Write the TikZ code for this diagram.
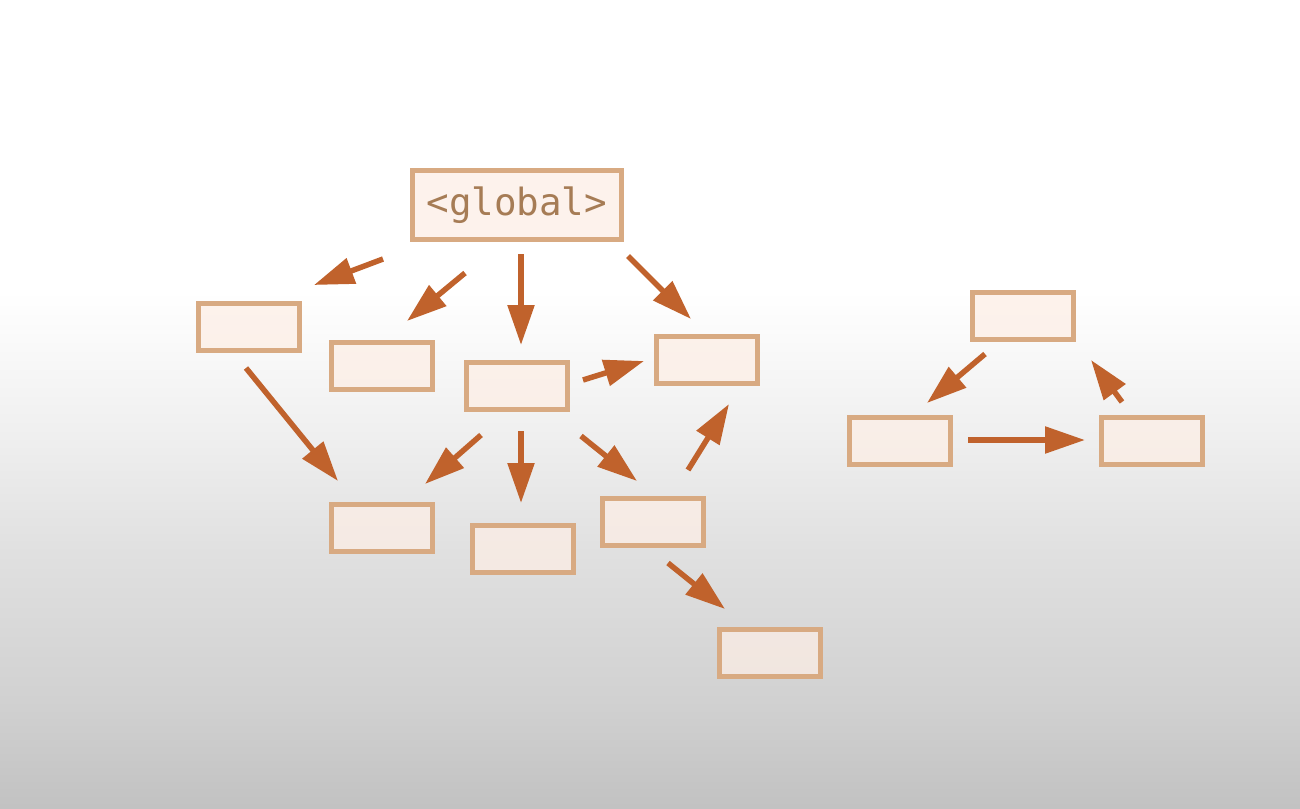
\documentclass[tikz,border=0pt]{standalone}
\usepackage{fontspec}
\setmonofont{DejaVu Sans Mono}
\usetikzlibrary{arrows.meta}
\definecolor{boxfill}{HTML}{FDEEE5}
\definecolor{boxline}{HTML}{D8AA82}
\definecolor{arr}{HTML}{C0622C}
\definecolor{txt}{HTML}{A67C55}
\pgfdeclareverticalshading{bgshade}{100bp}{
  color(0bp)=(white!76!black);
  color(25bp)=(white!76!black);
  color(31.7bp)=(white!82!black);
  color(41bp)=(white!88!black);
  color(48.4bp)=(white!94!black);
  color(54bp)=(white!98!black);
  color(57bp)=(white);
  color(75bp)=(white);
  color(100bp)=(white)}
\tikzset{
  box/.style={draw=boxline, line width=4.5pt, fill=boxfill, fill opacity=0.72, draw opacity=1, text opacity=1, minimum width=101pt, minimum height=47pt, inner sep=0pt, anchor=north west},
  arrow/.style={draw=arr, line width=5.5pt, -{Triangle[length=40pt,width=26pt]}}
}
\begin{document}
\begin{tikzpicture}[x=1pt,y=-1pt]
\useasboundingbox (0,0) rectangle (1300,808);
\shade[shading=bgshade] (0,0) rectangle (1300,808);
% nodes
\node[box, minimum width=209pt, minimum height=69pt, text=txt, font=\ttfamily\fontsize{37.5}{42}\selectfont] (g) at (410,168) {<global>};
\node[box] (a) at (196,301) {};
\node[box] (b) at (329,340) {};
\node[box] (c) at (464,360) {};
\node[box] (d) at (654,334) {};
\node[box] (e) at (329,502) {};
\node[box] (f) at (470,523) {};
\node[box] (gg) at (600,496) {};
\node[box] (h) at (717,627) {};
\node[box] (r1) at (970,290) {};
\node[box] (r2) at (847,415) {};
\node[box] (r3) at (1099,415) {};
% arrow endpoints
\coordinate (a1s) at (383,259); \coordinate (a1e) at (314,285);
\coordinate (a2s) at (465,273); \coordinate (a2e) at (407,321);
\coordinate (a3s) at (521,254); \coordinate (a3e) at (521,345);
\coordinate (a4s) at (628,256); \coordinate (a4e) at (691,319);
\coordinate (a5s) at (246,368); \coordinate (a5e) at (338,481);
\coordinate (a6s) at (583,380); \coordinate (a6e) at (644,361);
\coordinate (a7s) at (481,435); \coordinate (a7e) at (425,484);
\coordinate (a8s) at (521,431); \coordinate (a8e) at (521,503);
\coordinate (a9s) at (581,436); \coordinate (a9e) at (637,481);
\coordinate (a10s) at (688,470); \coordinate (a10e) at (729,404);
\coordinate (a11s) at (668,563); \coordinate (a11e) at (725,609);
\coordinate (a12s) at (985,354); \coordinate (a12e) at (927,403);
\coordinate (a13s) at (968,440); \coordinate (a13e) at (1085,440);
\coordinate (a14s) at (1122,402); \coordinate (a14e) at (1091,360);
\foreach \i in {1,...,14} {\draw[arrow] (a\i s) -- (a\i e);}
\end{tikzpicture}
\end{document}
